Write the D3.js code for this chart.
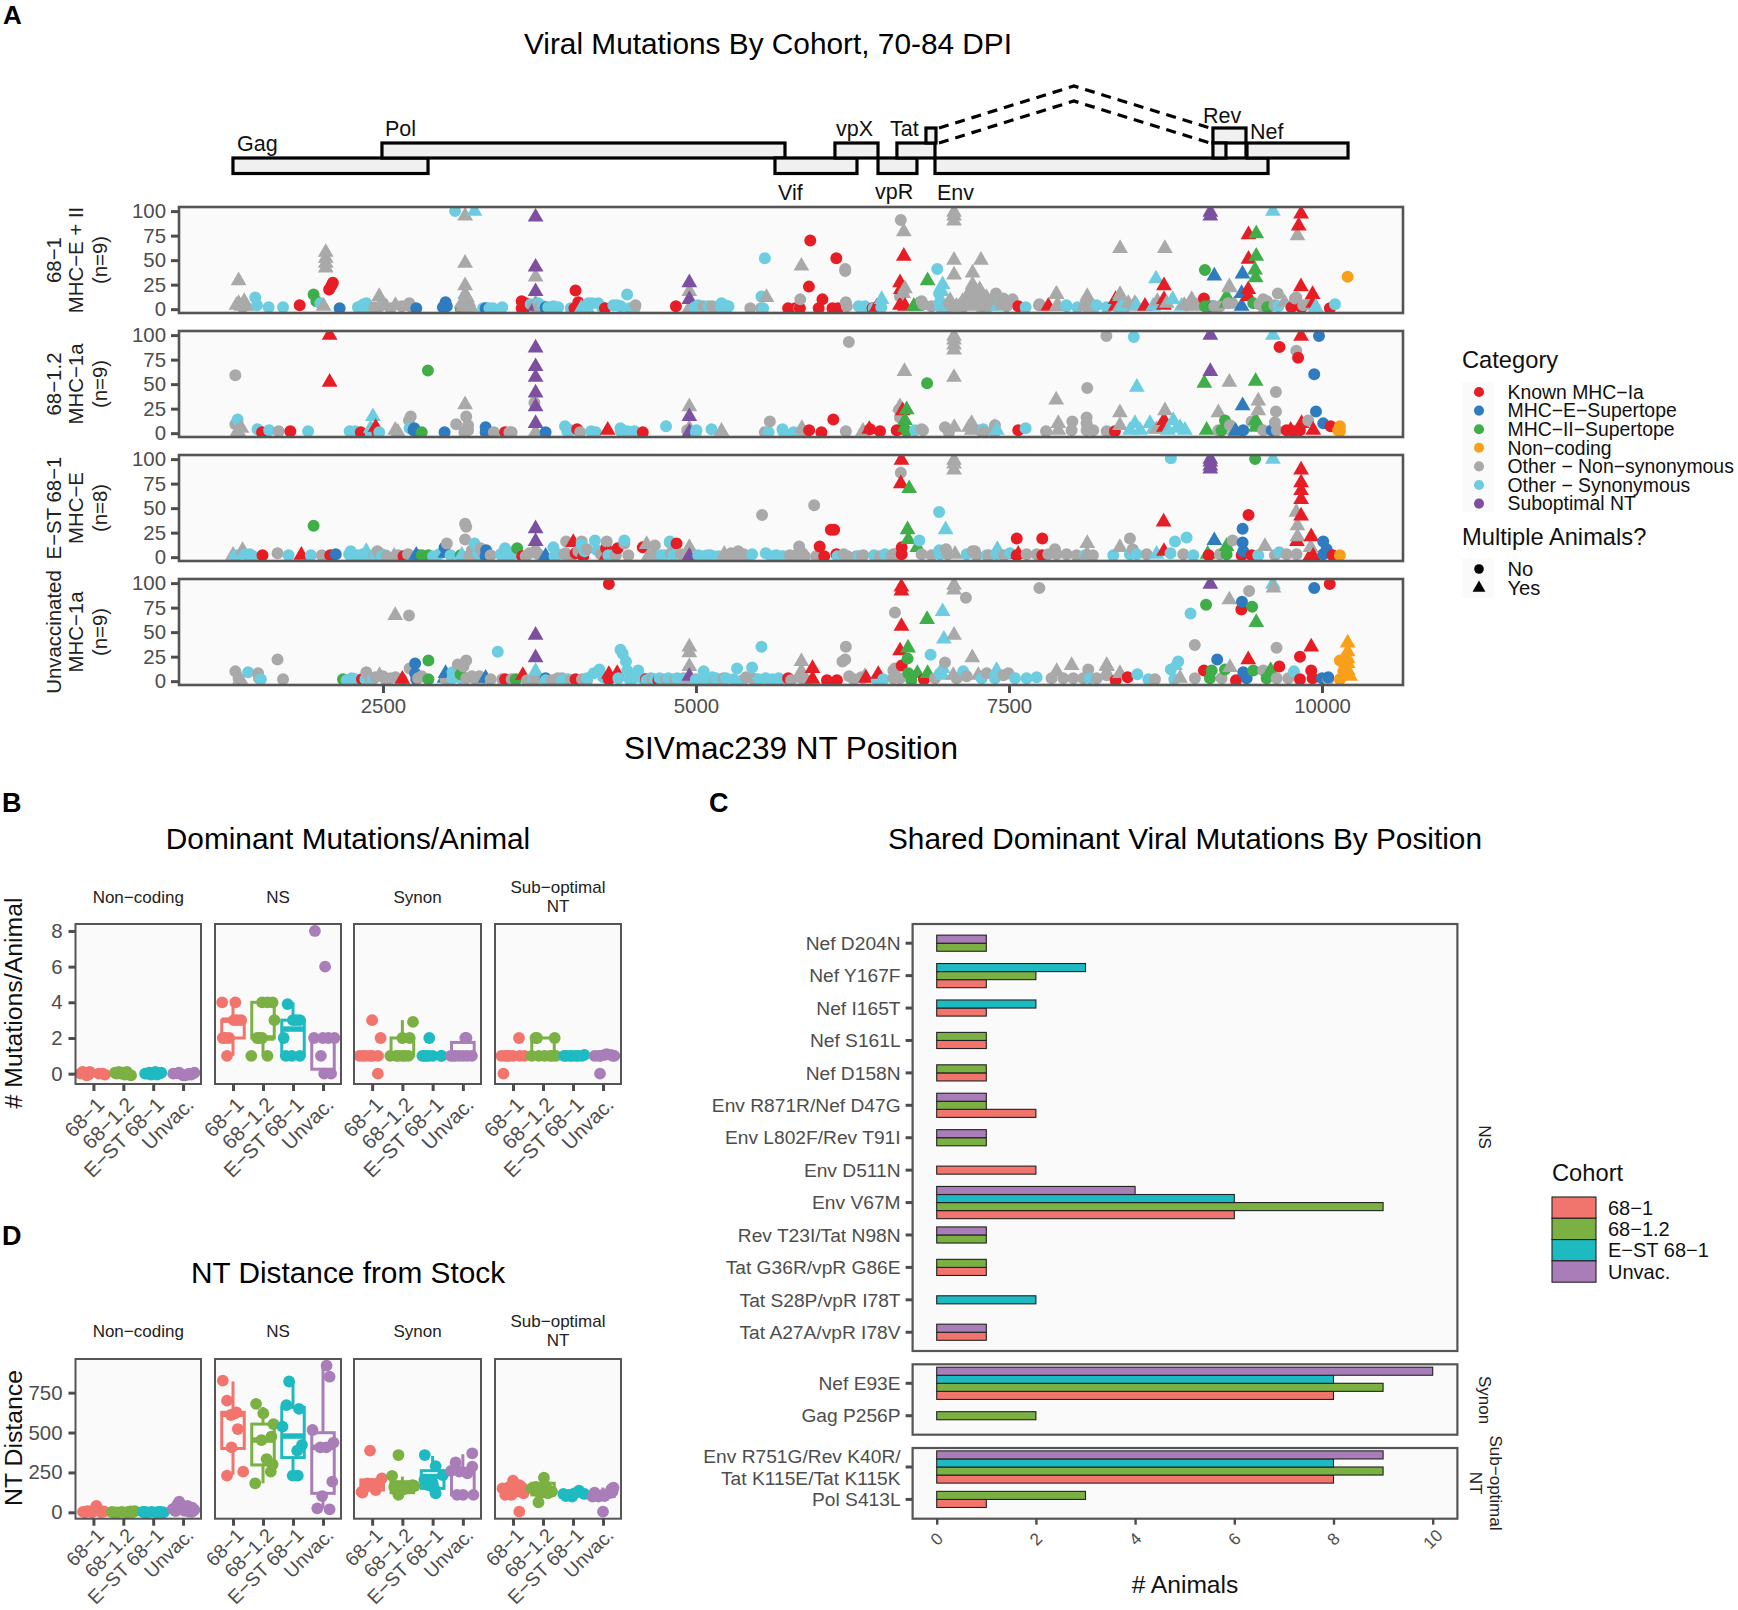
<!DOCTYPE html>
<html><head><meta charset="utf-8">
<script src="https://cdnjs.cloudflare.com/ajax/libs/d3/7.8.5/d3.min.js"></script>
<style>html,body{margin:0;padding:0;background:#fff}svg{display:block;font-family:"Liberation Sans",Arial,sans-serif}</style>
</head><body><svg id="c" width="1738" height="1610"></svg>
<script>
// ---- DATA ----
const categoryNames=["Known MHC−Ia","MHC−E−Supertope","MHC−II−Supertope","Non−coding","Other − Non−synonymous","Other − Synonymous","Suboptimal NT"];
const categoryKeys=["K","E","I","N","O","S","P"];
const categoryColors=["#E71D25","#2E7BBF","#3FAE49","#F9A01B","#A9A9A9","#6CCDE0","#7D4FA0"];
const cohorts=["68−1","68−1.2","E−ST 68−1","Unvac."];
const cohortColors=["#F2756D","#7BB042","#1EBAC2","#A97EB8"];
const facetStrips=[["68−1","MHC−E + II","(n=9)"],["68−1.2","MHC−1a","(n=9)"],["E−ST 68−1","MHC−E","(n=8)"],["Unvaccinated","MHC−1a","(n=9)"]];
const xTicksA=[2500,5000,7500,10000];
const yTicksA=[0,25,50,75,100];
// groups: [category, multiple animals (0/1), [[position, percent],...]]
const facet1=[
["O",1,[[1347,29],[1347,6],[1392,8],[1370,3],[1330,4],[1410,3],[2026,3],[2043,58],[2043,52],[2043,47],[2043,42],[2470,13],[2600,4],[3156,95],[3156,47],[3156,24],[3156,15],[3156,9],[3170,4],[3140,2],[3150,5],[3180,8],[3130,6],[3200,2],[3170,12],[3719,33],[3719,6],[4947,18],[4947,1],[5563,12],[5842,44],[6660,79],[6655,16],[7061,99],[7061,95],[7061,90],[7061,50],[7061,35],[7276,50],[7209,37],[7209,25],[7266,20],[7130,8],[7160,12],[7200,10],[7240,15],[7280,5],[7320,12],[7360,8],[7877,15],[7895,3],[8125,13],[8100,4],[8387,15],[8387,62],[8745,62],[8400,3],[8760,6],[8960,8],[9260,23],[9804,75],[9300,5],[9700,7],[9890,5],[7080,3],[7100,2],[7300,2],[7350,3],[8150,2],[8500,3],[8900,4],[9000,3],[9550,2],[6669,21],[7029,9],[7000,3],[7109,3],[7207,21],[7268,19],[7202,11],[7228,3],[7268,10],[7308,3],[7881,15],[7881,3],[8120,10],[8120,3],[8386,13],[8386,3],[8453,6],[8505,6],[8685,8],[8959,10],[9260,22],[9540,4]]],
["O",0,[[1380,2],[2430,2],[2478,3],[2500,6],[2560,1],[2650,3],[2700,4],[2710,6],[2730,2],[3165,1],[3190,2],[3700,3],[3750,2],[4517,4],[4990,1],[5060,3],[5150,1],[5160,2],[5434,1],[5130,3],[5520,1],[5833,10],[5825,1],[6192,41],[6192,39],[6197,7],[6205,3],[6636,91],[6813,5],[6880,3],[7030,4],[7140,3],[7180,5],[7290,3],[7400,10],[7430,5],[7480,5],[7743,5],[8960,5],[9647,16],[9140,3],[9250,6],[9500,5],[9560,8],[9620,4],[9795,12],[9850,4],[9900,6],[6802,8],[7396,16],[7455,11],[7529,10],[7481,3],[7740,4],[8919,4],[9185,3],[9531,10],[9784,11],[9890,5],[6629,13]]],
["S",0,[[1480,12],[1494,4],[1587,2],[1702,2],[2000,6],[2300,2],[2323,3],[2345,5],[2367,6],[2340,1],[2390,2],[3076,100],[3300,1],[3320,1],[3350,1],[3380,1],[3453,2],[3680,5],[3740,6],[3780,3],[3820,2],[3861,3],[3900,2],[4000,1],[4110,1],[4140,6],[4170,6],[4220,6],[4250,2],[4340,4],[4370,4],[4400,3],[4450,15],[4470,1],[4510,1],[4990,2],[5000,1],[5018,4],[5100,3],[5200,2],[5204,6],[5230,4],[5248,1],[5260,3],[5523,13],[5536,1],[5550,52],[6300,3],[6325,1],[6340,1],[6350,3],[6420,1],[6480,2],[6927,41],[6942,16],[6949,3],[6960,1],[7000,1],[7633,2],[7958,4],[7960,3],[8046,2],[8200,4],[8280,2],[9651,3],[10104,5],[9750,3]]],
["S",1,[[3231,100],[4085,1],[4130,1],[6483,10],[6962,18],[6949,10],[6970,25],[7407,3],[8400,2],[8519,4],[8652,3],[8674,31],[8807,10],[8879,3],[9608,100],[9950,2]]],
["K",0,[[1835,4],[2070,20],[2088,24],[2100,27],[3608,8],[3608,1],[3630,1],[3640,6],[4038,19],[4060,7],[4029,1],[4273,1],[4840,3],[5736,1],[5793,1],[5830,1],[5902,23],[5913,70],[5980,1],[6010,10],[6121,52],[6090,1],[6135,1],[6410,1],[6456,3],[7574,3],[9057,11],[9757,2],[9837,2],[10063,1]]],
["K",1,[[6443,2],[6630,27],[6629,4],[6636,20],[6660,54],[6670,3],[7814,3],[8352,10],[8352,3],[8586,3],[8738,24],[8738,10],[8738,4],[9413,76],[9413,51],[9411,20],[9411,13],[9833,97],[9814,85],[9832,23],[9925,15],[9930,6]]],
["E",0,[[2154,1],[2766,1],[2979,2],[3000,7],[3010,3],[3320,1],[3799,1],[3800,2],[9132,3]]],
["E",1,[[9140,34],[9365,36],[9358,16],[9358,3]]],
["I",0,[[1946,15],[1968,8],[3120,1],[9065,40],[9065,3],[9132,2],[9451,6],[9563,2],[9100,3]]],
["I",1,[[6762,3],[6740,3],[6780,4],[6850,29],[9475,77],[9475,54],[9465,40],[9470,32],[9238,13],[9238,6]]],
["P",1,[[3719,94],[3719,43],[3719,18],[3719,3],[4947,27],[4947,10],[9108,99],[9108,95]]],
["N",0,[[10205,33]]]];
const facet2=[
["O",0,[[1321,59],[1321,9],[1667,2],[2722,17],[2708,13],[3085,9],[3165,17],[3165,3],[3150,1],[3180,8],[3180,3],[3386,1],[3510,1],[3528,1],[3710,31],[4075,1],[4930,3],[5550,1],[5590,12],[5860,1],[6197,2],[6221,93],[6622,24],[6629,16],[6802,4],[6813,3],[6989,6],[7020,1],[7268,3],[7300,1],[7385,1],[7388,8],[7796,2],[8006,12],[8000,3],[8120,16],[8120,10],[8120,3],[8173,3],[8280,2],[8125,46],[8278,99],[9198,3],[9172,3],[9265,8],[9438,12],[9531,3],[9632,42],[9632,22],[9624,11],[9640,3],[9795,84],[9890,13]]],
["O",1,[[1370,5],[1347,1],[1340,2],[2598,3],[2620,1],[3156,29],[3719,1],[4947,27],[4947,5],[5204,2],[5846,5],[6334,2],[6629,27],[6665,63],[7061,99],[7061,95],[7061,90],[7061,85],[7061,57],[7063,6],[7180,6],[7202,10],[7202,3],[7385,6],[7877,34],[7894,10],[7894,3],[8386,21],[8386,8],[8679,4],[8746,23],[9172,21],[9260,52],[9491,33],[9491,23],[9300,3]]],
["S",0,[[1339,14],[1498,4],[1591,3],[1902,2],[2234,2],[2260,1],[2278,2],[2400,1],[2470,1],[2713,5],[3954,7],[3972,2],[4000,3],[4162,2],[4200,1],[4397,5],[4400,2],[4450,2],[4480,1],[4508,2],[4761,7],[5000,1],[5004,3],[5124,4],[5580,1],[5691,4],[5700,1],[5780,1],[6750,3],[7295,4],[7633,5],[8497,98]]],
["S",1,[[2420,17],[2402,5],[7402,3],[8466,3],[8506,10],[8521,47],[8546,3],[8626,10],[8652,4],[8770,3],[8812,13],[8866,6],[8840,5],[8905,3],[9608,100]]],
["K",0,[[1534,1],[1760,2],[2323,1],[2456,1],[3475,1],[4051,4],[4575,1],[5904,3],[6002,1],[6097,14],[6390,4],[6470,2],[6603,3],[7574,3],[8346,2],[9661,88],[9809,77],[9717,3],[9771,2],[9824,3],[10069,7]]],
["K",1,[[2074,100],[2074,52],[2442,6],[4295,3],[6384,4],[6651,23],[6643,3],[8738,13],[8738,6],[9833,99],[9837,10],[9930,3],[9750,3]]],
["E",0,[[2744,3],[2750,5],[2766,1],[2992,1],[3320,6],[3320,1],[3799,1],[9371,3],[9598,3],[9938,60],[9952,22],[9976,99],[10010,10]]],
["E",1,[[9366,28],[9310,2]]],
["I",0,[[2810,1],[2859,64],[6683,2],[6846,51],[9225,13],[9198,3]]],
["I",1,[[6683,24],[6669,13],[6669,6],[9060,51],[9079,3],[9470,53],[9470,13],[9470,6]]],
["P",1,[[3719,87],[3719,68],[3719,57],[3719,41],[3719,27],[3719,10],[4947,17],[4947,1],[9108,100],[9108,63]]],
["N",0,[[10143,7],[10143,2],[10129,3]]]];
const facet3=[
["O",1,[[1303,2],[1379,7],[2589,1],[3719,9],[4606,13],[4620,1],[4947,10],[5226,3],[7061,99],[7061,95],[7061,89],[7069,3],[8125,14],[8125,3],[8386,10],[9544,11],[9795,46],[9804,32],[9804,21],[9909,10]]],
["O",0,[[1658,4],[2012,2],[2430,2],[2456,6],[2478,1],[2490,3],[2530,1],[2620,2],[2640,1],[2700,3],[2730,1],[3010,14],[3156,34],[3165,31],[3156,18],[3200,3],[3210,7],[3190,1],[3240,1],[3280,9],[3300,4],[3360,2],[3640,1],[3670,4],[3740,3],[3950,3],[3963,16],[3960,4],[4000,1],[4060,6],[4087,16],[4130,8],[4240,3],[4287,16],[4360,2],[4428,14],[4460,2],[4650,2],[4672,12],[4700,1],[4791,15],[4800,4],[4880,3],[4900,1],[5240,1],[5280,4],[5330,2],[5337,6],[5300,2],[5380,3],[5420,1],[5528,43],[5750,2],[5824,11],[5800,2],[5850,4],[5870,1],[5944,53],[5960,1],[6180,3],[6201,1],[6210,1],[6280,1],[6325,1],[6336,2],[6470,1],[6560,1],[6576,3],[6589,3],[6605,3],[6636,86],[6802,3],[6882,2],[6997,8],[7010,3],[7209,6],[7228,6],[7241,2],[7340,2],[7460,2],[7641,3],[7721,3],[7814,3],[7867,8],[7881,3],[7960,3],[8040,2],[8170,2],[8466,19],[8488,8],[8600,3],[8892,3],[9185,3],[9286,17],[9624,2],[9717,3],[9797,3]]],
["S",0,[[1320,1],[1339,2],[1400,3],[1436,3],[1460,1],[1746,2],[1924,2],[2230,3],[2243,6],[2243,1],[2270,2],[2280,1],[2300,2],[2310,1],[2340,3],[2380,1],[2400,1],[2440,2],[2490,1],[2520,2],[2900,1],[2950,3],[3040,2],[3231,14],[3260,4],[3440,3],[3453,1],[3475,9],[3500,2],[3510,5],[3540,3],[3861,10],[3870,1],[3900,3],[4087,13],[4110,6],[4193,17],[4210,7],[4300,2],[4330,1],[4428,17],[4725,2],[4750,2],[4791,16],[4820,2],[5018,2],[5040,1],[5070,1],[5090,2],[5115,2],[5140,1],[5180,1],[5448,3],[5558,4],[5600,1],[5640,2],[5678,1],[5700,1],[6130,1],[6200,1],[6300,1],[6422,2],[6510,3],[6784,17],[6942,46],[6944,7],[6949,3],[7162,3],[7322,2],[7402,3],[7508,4],[8107,2],[8333,2],[8466,3],[8520,3],[8790,4],[8793,101],[8826,16],[8919,20],[8972,2],[9491,2],[9659,5]]],
["S",1,[[2367,6],[2420,1],[6994,28],[7407,8],[8679,3],[9608,100],[3130,2]]],
["K",0,[[1538,2],[2079,2],[2664,1],[3612,1],[4038,4],[4100,1],[4282,9],[4375,9],[4575,10],[4845,14],[5988,11],[6024,1],[6121,3],[6077,28],[6104,28],[6643,10],[6643,3],[7562,19],[7562,2],[7766,19],[7766,2],[9358,2],[9438,2],[9095,2],[9413,43],[10085,2]]],
["K",1,[[1848,2],[4020,15],[4287,2],[6641,99],[6636,75],[7574,3],[8735,36],[8738,6],[9833,89],[9833,76],[9833,68],[9833,59],[9833,42],[9800,16],[9905,1],[9930,1],[9914,21]]],
["E",0,[[2123,3],[2780,2],[2992,10],[3324,7],[3320,1],[9366,29],[9366,15],[9371,6],[10010,16],[10037,8],[10010,3]]],
["E",1,[[2766,2],[3000,4],[3799,1],[9140,17]]],
["I",0,[[1946,32],[2810,2],[2863,2],[3120,2],[3572,9],[9466,100],[9238,3]]],
["I",1,[[6690,28],[6696,18],[6703,70],[6768,10],[9087,3],[9238,11]]],
["P",1,[[3719,29],[3719,16],[4947,1],[9108,100],[9108,97],[9108,93],[9108,90]]],
["N",0,[[10143,2]]]];
const facet4=[
["O",0,[[1321,10],[1347,3],[1503,8],[1510,3],[1658,22],[1702,2],[2367,9],[2400,3],[2440,4],[2500,5],[2520,2],[2560,3],[2600,4],[2650,2],[2708,67],[2713,13],[2780,3],[2810,5],[3000,2],[3098,17],[3143,15],[3165,21],[3165,3],[3210,5],[3240,2],[3270,5],[3300,3],[3360,2],[3453,2],[3528,2],[3560,1],[3650,1],[3719,3],[3850,1],[3896,3],[3930,3],[4000,1],[4090,2],[4130,1],[4650,2],[4700,1],[4760,2],[4830,1],[4900,3],[5000,2],[5150,1],[5220,3],[5400,4],[5448,3],[5480,2],[5760,1],[5840,3],[5880,1],[6192,22],[6170,20],[6197,35],[6223,5],[6260,2],[6320,4],[6334,3],[6576,11],[6576,3],[6589,13],[6589,70],[6629,3],[6909,3],[6989,19],[7082,3],[7156,85],[7162,5],[7322,8],[7455,6],[7495,8],[7743,95],[7840,3],[7934,3],[8014,3],[8093,3],[8133,12],[8200,3],[8280,6],[8666,2],[8984,37],[8985,3],[9198,3],[9418,92],[9531,11],[9637,34],[9638,3],[9731,3],[10050,2]]],
["O",1,[[1360,2],[2473,6],[2598,67],[3719,2],[4947,35],[4947,29],[4947,15],[4947,2],[5842,20],[5842,10],[6350,5],[7061,47],[7061,98],[7061,93],[7055,6],[7207,24],[7255,6],[7881,10],[8000,16],[8280,16],[8282,15],[8386,8],[8866,3],[9260,83],[9265,14],[9613,95]]],
["S",0,[[1423,9],[1525,2],[2210,1],[2250,3],[2280,2],[2300,1],[2360,2],[2420,2],[3055,9],[3055,3],[3120,3],[3417,30],[3700,1],[3800,1],[3930,1],[3980,2],[4130,3],[4184,8],[4229,12],[4260,4],[4300,2],[4397,32],[4415,28],[4441,20],[4450,11],[4380,3],[4470,2],[4500,3],[4530,5],[4539,11],[4570,3],[4605,1],[4640,3],[4670,2],[4710,3],[4740,1],[4780,3],[4810,2],[4850,3],[4880,1],[4900,2],[5000,1],[5062,10],[5050,3],[5100,2],[5130,4],[5160,3],[5200,1],[5240,3],[5300,2],[5328,13],[5370,1],[5448,14],[5500,2],[5523,35],[5558,3],[5610,2],[5660,3],[5700,1],[6443,2],[6496,2],[6874,27],[6950,8],[7135,10],[7282,3],[7388,3],[7548,3],[7641,3],[7721,4],[8147,3],[8525,7],[8613,2],[8793,12],[8820,2],[8852,20],[8950,69],[9776,10]]],
["S",1,[[3719,10],[6970,71],[6980,43],[6970,13],[6970,6],[7401,11],[8826,16],[9608,99]]],
["K",0,[[2332,2],[3475,2],[4038,2],[4304,2],[4304,99],[4600,2],[4700,1],[5736,3],[6046,1],[6126,1],[6643,16],[6821,2],[8352,1],[8448,4],[9057,11],[9313,1],[9356,73],[9659,15],[9824,25],[9824,2],[9914,11],[9925,3],[10062,99]]],
["K",1,[[2655,2],[3617,6],[4371,8],[4304,7],[5931,13],[5931,2],[6358,3],[6456,7],[6630,31],[6641,96],[6641,92],[6641,56],[9411,22],[9914,35]]],
["E",0,[[2757,18],[2757,8],[2766,2],[3799,3],[9163,22],[9361,81],[9371,9],[9398,3],[9938,95],[10000,3],[10050,4]]],
["E",1,[[2992,3],[3000,8],[3320,3]]],
["I",0,[[2181,2],[2863,21],[2863,2],[3120,7],[3560,2],[6690,23],[6696,8],[6720,1],[9074,78],[9119,11],[9105,3],[9225,12],[9442,76],[9451,11],[9558,3]]],
["I",1,[[6694,34],[6768,8],[6846,63],[6850,8],[9475,60],[9590,11]]],
["P",1,[[3719,47],[3719,24],[4947,5],[9108,99]]],
["N",0,[[10143,21],[10143,2],[10170,10],[10180,15]]],
["N",1,[[10205,39],[10205,30],[10205,23],[10205,18],[10205,11],[10224,5]]]];
const facetData=[facet1,facet2,facet3,facet4];
// gene map, SIV NT coordinates
const genes=[["Gag",1302,2860,1],["Pol",2492,5711,0],["Vif",5631,6286,1],["vpX",6110,6454,0],["vpR",6454,6765,1],["Tat",6605,6909,0],["Tat2a",6837,6917,-1],["Env",6909,9569,1],["Rev",9129,9393,-1],["Tat2b",9129,9233,0],["Nef",9401,10208,0]];
const spliceXs=[6941,8019,9105];
// panel B: per facet, per cohort [jitter, value] and box stats [lo,q1,med,q3,hi]
const stripNames=[["Non−coding"],["NS"],["Synon"],["Sub−optimal","NT"]];
const bNonCoding=[[[-.36,.1],[-.23,-.1],[-.3,.05],[-.16,-.05],[.18,0],[.38,-.05],[-.12,.1],[-.43,0],[.31,0]],[[-.28,.05],[-.08,0],[.12,.1],[.26,-.1],[-.15,.1],[.05,-.05],[-.22,0],[-.01,.05],[.19,-.05]],[[-.27,0],[-.13,.05],[.07,.1],[.2,0],[.27,.05],[-.07,-.05],[.13,-.05],[-.2,0]],[[-.33,0],[-.13,.05],[0,-.1],[.16,-.05],[.38,.05],[-.2,.02],[.07,-.1],[.27,-.05],[.2,0]]];
const bNS=[[[-.36,4],[.08,4],[.03,3],[.27,3],[.14,3],[-.34,2],[-.13,2],[-.25,2],[-.2,1]],[[-.39,1],[.15,1],[-.19,2],[-.03,2],[-.12,2],[-.03,4],[.32,4],[.15,4],[.38,3]],[[-.18,3.9],[-.31,2],[0,3],[.23,3],[.1,3],[-.04,1],[.23,1],[-.24,1]],[[-.27,8],[.07,6],[-.3,2],[.18,2],[.38,2],[0,2],[-.07,1],[.04,0],[.27,0]]];
const bSynon=[[[0,3],[.28,2],[-.42,1],[-.22,1],[0,1],[.19,1],[-.31,1],[.19,0],[-.08,1]],[[.35,2.9],[0,2],[.24,2],[-.4,1],[-.2,1],[0,1],[.2,1],[.07,1],[-.13,1]],[[-.11,2],[-.27,1],[-.13,1],[0,1],[.3,1],[-.34,1],[-.2,1],[.28,1]],[[.12,2],[-.32,1],[-.12,1],[.15,1],[-.25,1],[.01,1],[.3,1],[.08,2],[-.4,1]]];
const bSub=[[[.2,2],[-.32,0],[-.39,1],[-.19,1],[.01,1],[.38,1],[-.26,1],[-.12,1],[.22,1]],[[-.2,2],[.39,2],[-.38,1],[-.14,1],[.23,1],[.43,1],[-.25,2],[.05,1],[.3,1]],[[-.23,1],[-.03,1],[.17,1],[.38,1.05],[-.1,1],[.1,1],[.3,1],[-.3,1]],[[-.1,0],[-.28,1],[-.08,1],[.12,1.1],[.32,1],[.26,1.05],[.06,1.05],[-.15,1],[.38,1]]];
const bBoxes=[[[0,0,0,0,0],[0,0,0,0,0],[0,0,0,0,0],[0,0,0,0,0]],[[1,2,3,3,4],[1,2,2,4,4],[1,1,2.5,3,4],[0,.25,2,2,2]],[[1,1,1,1,1],[1,1,1,2,3],[1,1,1,1,1],[1,1,1,1.75,2]],[[1,1,1,1,1],[1,1,1,2,2],[1,1,1,1,1],[1,1,1,1,1]]];
const dNonCoding=[[[.1,40],[-.35,3],[-.2,8],[-.1,5],[.03,10],[.2,12],[.35,5],[-.28,0],[.25,2],[-.05,0]],[[-.38,2],[-.2,0],[-.05,3],[.1,0],[.25,5],[.38,8],[-.3,0],[.18,2],[.32,1]],[[-.35,3],[-.2,0],[-.05,3],[.1,0],[.25,3],[.35,0],[-.28,2],[.18,2]],[[-.13,67],[-.2,46],[-.05,45],[.15,40],[.3,30],[-.35,20],[-.25,8],[-.1,25],[.05,10],[.2,5],[.38,15],[.3,3]]];
const dNS=[[[-.34,825],[-.2,700],[.11,627],[.16,522],[-.05,407],[-.2,230],[.34,255],[.07,620],[-.07,610]],[[-.23,680],[.01,620],[.35,553],[.28,475],[-.05,453],[.12,334],[.32,300],[.26,255],[-.26,182]],[[-.13,820],[-.22,672],[.2,648],[-.35,537],[.3,422],[.14,387],[-.01,230],[.16,230]],[[.12,920],[.22,850],[-.35,516],[.35,437],[-.09,407],[.11,407],[.31,192],[-.03,102],[-.19,25],[.22,19]]];
const dSynon=[[[-.07,387],[-.32,123],[.32,213],[.19,182],[-.15,182],[.05,170],[.12,140],[-.2,160],[-.35,128],[-.08,175]],[[-.13,359],[-.34,228],[-.13,109],[-.27,161],[0,161],[.2,161],[.34,170],[.4,165],[.07,145],[-.2,140]],[[-.26,359],[.1,290],[.1,119],[-.27,205],[.34,234],[0,182],[.05,150],[-.15,170]],[[.31,370],[-.24,313],[.31,286],[-.39,260],[-.12,255],[.15,245],[-.19,109],[.01,109],[.35,109]]];
const dSub=[[[.21,4],[0,198],[-.35,150],[-.12,160],[.08,155],[.28,160],[-.26,109],[-.05,109],[.35,119],[.21,170],[.1,130],[-.15,120]],[[.03,217],[-.15,63],[-.24,160],[-.04,150],[.16,119],[.3,130],[-.38,150],[-.1,119],[.1,165]],[[-.32,115],[-.14,109],[.04,119],[.2,136],[.38,115],[-.23,102],[-.03,98]],[[0,4],[.35,155],[.19,119],[-.35,98],[-.15,98],[.05,102],[.32,130],[-.28,123],[0,109],[.28,145]]];
const dBoxes=[[[0,0,3,15,40],[0,0,2,5,10],[0,0,0,3,5],[0,5,15,35,67]],[[235,400,615,627,820],[182,297,453,553,660],[224,343,478,658,820],[25,119,407,499,920]],[[120,140,170,203,215],[115,123,157,192,224],[115,150,224,261,353],[109,109,250,276,364]],[[90,105,125,150,195],[90,109,135,182,215],[98,102,110,118,130],[98,100,105,125,155]]];
// panel C: rows top to bottom, values per cohort
const cNSLabels=["Nef D204N","Nef Y167F","Nef I165T","Nef S161L","Nef D158N","Env R871R/Nef D47G","Env L802F/Rev T91I","Env D511N","Env V67M","Rev T23I/Tat N98N","Tat G36R/vpR G86E","Tat S28P/vpR I78T","Tat A27A/vpR I78V"];
const cNSValues=[[0,1,0,1],[1,2,3,0],[1,0,2,0],[1,1,0,0],[1,1,0,0],[2,1,0,1],[0,1,0,1],[2,0,0,0],[6,9,6,4],[0,1,0,1],[1,1,0,0],[0,0,2,0],[1,0,0,1]];
const cSynLabels=["Nef E93E","Gag P256P"];
const cSynValues=[[8,9,8,10],[0,2,0,0]];
const cSubLabels=["Env R751G/Rev K40R/\nTat K115E/Tat K115K","Pol S413L"];
const cSubValues=[[8,9,8,9],[1,3,0,0]];
const cTicks=[0,2,4,6,8,10];

// ---- LAYOUT / HELPERS ----
const svg=d3.select("#c");
const INK="#4d4d4d",PANEL="#FAFAFA",BLACK="#000";
let clipN=0;
function txt(x,y,s,o={}){
  const t=svg.append("text").attr("x",x).attr("y",y).attr("dy",".35em").text(s)
    .attr("font-size",o.size||20).attr("fill",o.fill||INK).attr("text-anchor",o.anchor||"start")
    .attr("font-weight",o.weight||"normal");
  if(o.rot!==undefined)t.attr("transform",`rotate(${o.rot} ${x} ${y})`);
  return t;
}
function frame(x0,y0,x1,y1){
  return svg.append("rect").attr("x",x0).attr("y",y0).attr("width",x1-x0).attr("height",y1-y0)
    .attr("fill",PANEL).attr("stroke","none");
}
function border(x0,y0,x1,y1,w){
  svg.append("rect").attr("x",x0).attr("y",y0).attr("width",x1-x0).attr("height",y1-y0)
    .attr("fill","none").attr("stroke","#555").attr("stroke-width",w||2.6);
}
function styleAxis(g,size,w){
  g.select(".domain").remove();
  g.selectAll(".tick line").attr("stroke",INK).attr("stroke-width",w||3);
  g.selectAll(".tick text").attr("fill",INK).attr("font-size",size).attr("font-family","Liberation Sans, Arial, sans-serif");
}
function clip(x0,y0,x1,y1){
  const id="cl"+(clipN++);
  svg.append("clipPath").attr("id",id).append("rect").attr("x",x0).attr("y",y0).attr("width",x1-x0).attr("height",y1-y0);
  return id;
}

// ---- PANEL A ----
txt(3,15,"A",{size:26,weight:"bold",fill:BLACK});
txt(768,44,"Viral Mutations By Cohort, 70-84 DPI",{size:29.8,anchor:"middle",fill:BLACK});
const ax0=179,ax1=1403;
const xA=d3.scaleLinear().domain([871,10647]).range([ax0,ax1]);
const colorA=d3.scaleOrdinal().domain(categoryKeys).range(categoryColors);
const facetY=[[207,313],[331,437],[455,561],[579,685]];
const circ=d3.symbol().type(d3.symbolCircle).size(113)();
const tri=d3.symbol().type(d3.symbolTriangle).size(108)();
facetData.forEach((rows,fi)=>{
  const [y0,y1]=facetY[fi];
  frame(ax0,y0,ax1,y1);
  const yS=d3.scaleLinear().domain([-3.9,104.2]).range([y1,y0]);
  const id=clip(ax0,y0,ax1,y1);
  const pts=[];
  rows.forEach(([c,m,list])=>list.forEach(([p,v])=>pts.push({c,m,p,v})));
  pts.sort((a,b)=>a.p-b.p);
  svg.append("g").attr("clip-path",`url(#${id})`).selectAll("path").data(pts).join("path")
    .attr("d",d=>d.m?tri:circ).attr("fill",d=>colorA(d.c))
    .attr("transform",d=>`translate(${xA(d.p)},${yS(d.v)})`);
  border(ax0,y0,ax1,y1);
  const ga=svg.append("g").attr("transform",`translate(${ax0},0)`).call(d3.axisLeft(yS).tickValues(yTicksA).tickSize(8).tickPadding(5));
  styleAxis(ga,20.4);
  const [a,b,c]=facetStrips[fi], cy=(y0+y1)/2;
  [[54,a],[76,b],[100,c]].forEach(([x,s])=>txt(x,cy,s,{size:20.4,anchor:"middle",rot:-90,fill:"#222"}));
});
const gx=svg.append("g").attr("transform",`translate(0,685)`).call(d3.axisBottom(xA).tickValues(xTicksA).tickSize(8).tickPadding(6).tickFormat(d3.format("d")));
styleAxis(gx,20.4);
txt(791,748,"SIVmac239 NT Position",{size:31.5,anchor:"middle",fill:BLACK});

// gene map
const rowY=[[143,158],[158,173.5],[128,143]];
const rowOf=r=>r===0?rowY[0]:r===1?rowY[1]:rowY[2];
svg.append("g").selectAll("rect").data(genes).join("rect")
  .attr("x",d=>xA(d[1])).attr("width",d=>xA(d[2])-xA(d[1]))
  .attr("y",d=>rowOf(d[3])[0]).attr("height",d=>rowOf(d[3])[1]-rowOf(d[3])[0])
  .attr("fill","#F0F0F0").attr("stroke",BLACK).attr("stroke-width",3.2);
svg.append("line").attr("x1",xA(9393)).attr("x2",xA(9393)).attr("y1",143).attr("y2",158).attr("stroke",BLACK).attr("stroke-width",3.2);
const splice=d3.line().x(d=>xA(d[0])).y(d=>d[1]);
[[128,86],[143,101]].forEach(([b,t])=>{
  svg.append("path").attr("d",splice([[spliceXs[0],b],[spliceXs[1],t],[spliceXs[2],b]]))
    .attr("fill","none").attr("stroke",BLACK).attr("stroke-width",3.2).attr("stroke-dasharray","10,7");
});
[["Gag",237,143],["Pol",385,128],["vpX",836,128],["Tat",890,128],["Rev",1203,115],["Nef",1250,131],["Vif",778,192],["vpR",875,191],["Env",937,192]].forEach(([s,x,y])=>txt(x,y,s,{size:21.5,fill:"#111"}));

// legends of A
const lx=1462;
txt(lx,360,"Category",{size:23.7,fill:"#111"});
svg.append("rect").attr("x",lx).attr("y",382).attr("width",32).attr("height",130).attr("fill",PANEL);
categoryNames.forEach((n,i)=>{
  const y=392+i*18.6;
  svg.append("path").attr("d",d3.symbol().type(d3.symbolCircle).size(80)()).attr("transform",`translate(1479,${y})`).attr("fill",categoryColors[i]);
  txt(1507.5,y,n,{size:19.4,fill:"#111"});
});
txt(lx,537,"Multiple Animals?",{size:23.7,fill:"#111"});
svg.append("rect").attr("x",lx).attr("y",558).attr("width",32).attr("height",40).attr("fill",PANEL);
[["No",d3.symbolCircle,569],["Yes",d3.symbolTriangle,588]].forEach(([s,sym,y])=>{
  svg.append("path").attr("d",d3.symbol().type(sym).size(72)()).attr("transform",`translate(1479,${y})`).attr("fill",BLACK);
  txt(1507.5,y,s,{size:20.2,fill:"#111"});
});

// ---- PANELS B & D ----
const facetX=[[75.5,201],[215,341],[354,481],[495,621]];
function boxPanel(y0,y1,dom,ticks,facets,boxes,titleS,titleY,stripY,yTitle,yTitleC,letter,letY,labSize,labOff){
  txt(2,letY,letter,{size:27,weight:"bold",fill:BLACK});
  txt(348,titleY,titleS,{size:29.8,anchor:"middle",fill:BLACK});
  txt(13,yTitleC,yTitle,{size:24.8,anchor:"middle",rot:-90,fill:"#111"});
  const yS=d3.scaleLinear().domain(dom).range([y1,y0]);
  facetX.forEach(([x0,x1],fi)=>{
    frame(x0,y0,x1,y1);
    const xS=d3.scaleLinear().domain([.4,4.6]).range([x0,x1]);
    const hw=xS(1.375)-xS(1);
    boxes[fi].forEach(([lo,q1,m,q3,hi],ci)=>{
      const cx=xS(ci+1),col=cohortColors[ci];
      const g=svg.append("g").attr("stroke",col).attr("fill","none").attr("stroke-width",3);
      g.append("rect").attr("x",cx-hw).attr("width",2*hw).attr("y",yS(q3)).attr("height",Math.max(0,yS(q1)-yS(q3)));
      g.append("line").attr("x1",cx-hw).attr("x2",cx+hw).attr("y1",yS(m)).attr("y2",yS(m)).attr("stroke-width",5.5);
      g.append("line").attr("x1",cx).attr("x2",cx).attr("y1",yS(q3)).attr("y2",yS(hi));
      g.append("line").attr("x1",cx).attr("x2",cx).attr("y1",yS(q1)).attr("y2",yS(lo));
    });
    facets[fi].forEach((pts,ci)=>{
      svg.append("g").selectAll("circle").data(pts).join("circle")
        .attr("cx",d=>xS(ci+1+d[0])).attr("cy",d=>yS(d[1])).attr("r",5.9).attr("fill",cohortColors[ci]);
    });
    border(x0,y0,x1,y1,2);
    const gb=svg.append("g").attr("transform",`translate(0,${y1})`)
      .call(d3.axisBottom(xS).tickValues([1,2,3,4]).tickSize(7).tickFormat(""));
    styleAxis(gb,20);
    cohorts.forEach((c,i)=>txt(xS(i+1)+7,y1+labOff,c,{size:labSize,anchor:"end",rot:-45}));
    const cxx=(x0+x1)/2, sn=stripNames[fi];
    sn.forEach((s,i)=>txt(cxx,sn.length>1?stripY-9.5+i*19:stripY,s,{size:17,anchor:"middle",fill:"#222"}));
    if(fi===0){
      const ga=svg.append("g").attr("transform",`translate(${x0},0)`).call(d3.axisLeft(yS).tickValues(ticks).tickSize(7).tickPadding(6));
      styleAxis(ga,20.4);
    }
  });
}
boxPanel(924,1084,[-.58,8.39],[0,2,4,6,8],[bNonCoding,bNS,bSynon,bSub],bBoxes,"Dominant Mutations/Animal",839,897,"# Mutations/Animal",1003,"B",803,20.4,17);
boxPanel(1359,1518.7,[-40,961],[0,250,500,750],[dNonCoding,dNS,dSynon,dSub],dBoxes,"NT Distance from Stock",1273,1331,"NT Distance",1438,"D",1236,19.4,13);

// ---- PANEL C ----
txt(709,803,"C",{size:27,weight:"bold",fill:BLACK});
txt(1185,839,"Shared Dominant Viral Mutations By Position",{size:29.8,anchor:"middle",fill:BLACK});
const cx0=912.6,cx1=1457.4;
const xC=d3.scaleLinear().domain([0,10]).range([936.7,1432.7]);
const step=32.42;
function barFacet(y0,y1,firstC,labels,values){
  frame(cx0,y0,cx1,y1);
  const yB=d3.scaleBand().domain(labels).range([firstC-step/2,firstC+step*(labels.length-.5)]);
  const bh=step/4-.05;
  labels.forEach((l,i)=>{
    const present=values[i].map((v,c)=>({v,c})).filter(d=>d.v>0);
    const cy=yB(l)+yB.bandwidth()/2;
    const n=present.length;
    svg.append("g").selectAll("rect").data(present).join("rect")
      .attr("x",xC(0)).attr("width",d=>xC(d.v)-xC(0))
      .attr("y",(d,j)=>cy+(n/2-j-1)*bh).attr("height",bh)
      .attr("fill",d=>cohortColors[d.c]).attr("stroke","#222").attr("stroke-width",1.1);
  });
  border(cx0,y0,cx1,y1,2.2);
  const ga=svg.append("g").attr("transform",`translate(${cx0},0)`).call(d3.axisLeft(yB).tickSize(7).tickFormat(""));
  styleAxis(ga,19);
  labels.forEach(l=>{
    const cy=yB(l)+yB.bandwidth()/2, parts=l.split("\n");
    parts.forEach((p,i)=>txt(900.6,cy+(i-(parts.length-1)/2)*22,p,{size:19.2,anchor:"end"}));
  });
}
barFacet(924,1351,943.2,cNSLabels,cNSValues);
barFacet(1364.3,1434.7,1383.3,cSynLabels,cSynValues);
barFacet(1448,1518.7,1467,cSubLabels,cSubValues);
txt(1485,1137,"NS",{size:17,anchor:"middle",rot:90,fill:"#222"});
txt(1485,1400,"Synon",{size:17,anchor:"middle",rot:90,fill:"#222"});
txt(1495.5,1483,"Sub−optimal",{size:17,anchor:"middle",rot:90,fill:"#222"});
txt(1476,1483,"NT",{size:17,anchor:"middle",rot:90,fill:"#222"});
const gc=svg.append("g").attr("transform","translate(0,1518.7)").call(d3.axisBottom(xC).tickValues(cTicks).tickSize(6).tickFormat(""));
styleAxis(gc,18,2.4);
cTicks.forEach(t=>txt(xC(t),1539,t,{size:17,anchor:"middle",rot:-45}));
txt(1185,1584,"# Animals",{size:24.6,anchor:"middle",fill:"#111"});
txt(1552,1173,"Cohort",{size:23.7,fill:"#111"});
cohorts.forEach((c,i)=>{
  const y=1197+i*21.3;
  svg.append("rect").attr("x",1552).attr("y",y).attr("width",44).attr("height",21.3).attr("fill",cohortColors[i]).attr("stroke","#222").attr("stroke-width",1.1);
  txt(1608,y+10.6,c,{size:20,fill:"#111"});
});
</script></body></html>
